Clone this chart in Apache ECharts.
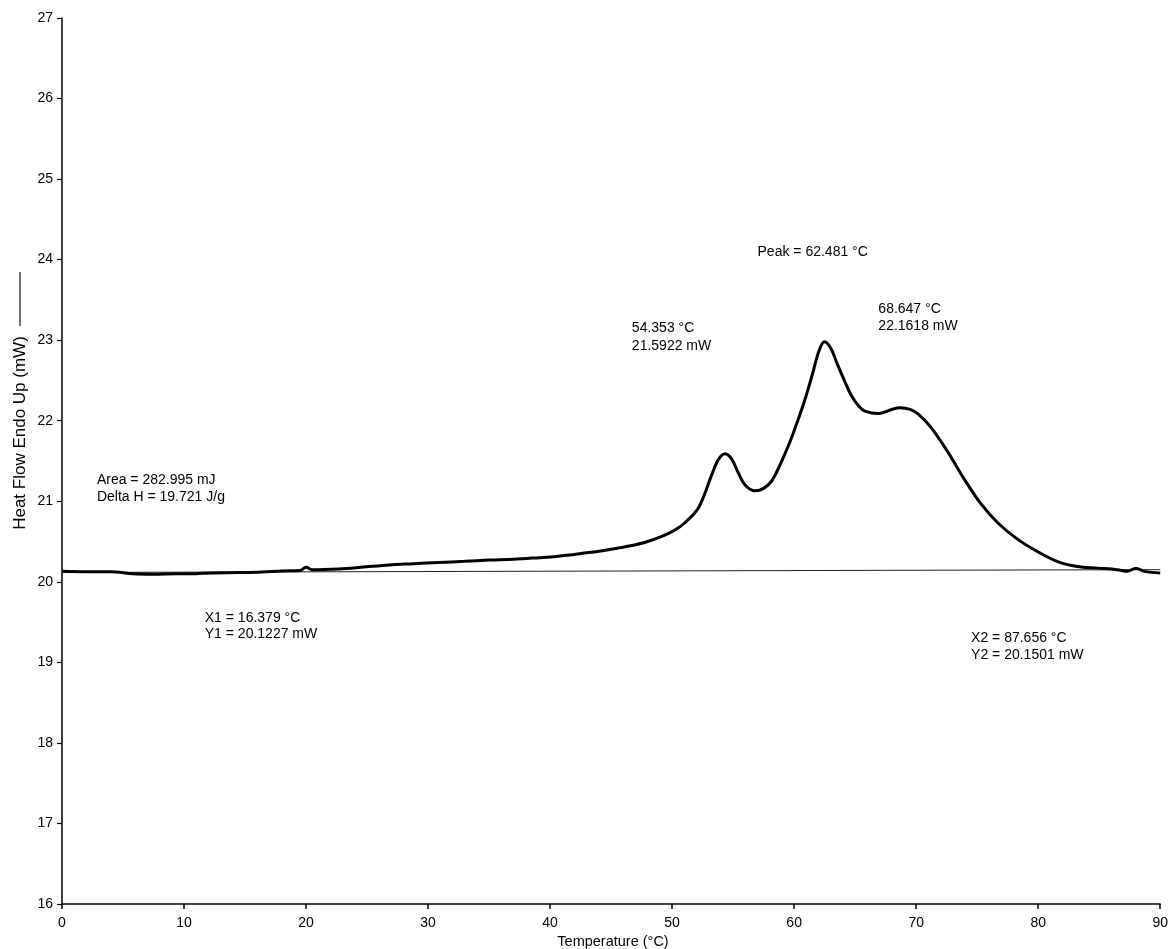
<!DOCTYPE html>
<html>
<head>
<meta charset="utf-8">
<script src="https://cdn.jsdelivr.net/npm/echarts@6/dist/echarts.min.js"></script>
<style>
html,body{margin:0;padding:0;background:#fff;}
#chart{width:1171px;height:949px;}
</style>
</head>
<body>
<div id="chart"></div>
<script>
// Temperature (°C) and heat flow (mW)
const temperature = [0, 2, 4, 5.8, 7.5, 9.4, 11, 12.1, 14.5, 16.4, 18, 19.5, 20.0, 20.5, 22.7, 24.5, 26.8, 28.8, 30.9, 33, 35, 37, 39.1, 40.5, 41.8, 43, 44, 45.6, 46.7, 48, 49.4, 50.3, 51.1, 52.2, 53.3, 53.8, 54.35, 54.9, 55.4, 56.0, 56.8, 57.5, 58.2, 59.5, 60.2, 60.9, 61.5, 62.0, 62.48, 63.0, 63.6, 64.2, 64.7, 65.3, 65.8, 66.9, 68.0, 68.65, 69.5, 70.2, 71.2, 72.6, 74.0, 75.3, 76.7, 78.3, 80.0, 81.6, 83.2, 84.9, 86.5, 87.3, 88.0, 88.7, 90.0];
const heatFlow = [20.13, 20.125, 20.125, 20.10, 20.095, 20.10, 20.10, 20.11, 20.115, 20.122, 20.135, 20.14, 20.18, 20.15, 20.16, 20.18, 20.21, 20.225, 20.24, 20.255, 20.27, 20.28, 20.30, 20.315, 20.335, 20.36, 20.38, 20.42, 20.45, 20.50, 20.58, 20.65, 20.74, 20.93, 21.35, 21.52, 21.59, 21.52, 21.36, 21.20, 21.13, 21.16, 21.26, 21.68, 21.96, 22.27, 22.58, 22.85, 22.98, 22.90, 22.68, 22.47, 22.31, 22.18, 22.12, 22.09, 22.14, 22.16, 22.14, 22.08, 21.92, 21.61, 21.26, 20.97, 20.73, 20.53, 20.37, 20.25, 20.19, 20.17, 20.15, 20.13, 20.17, 20.13, 20.11];

// Integration baseline end points
const baselineX = [0, 90];
const baselineY = [20.116, 20.151];

// Axis ticks
const xTicks = [0, 10, 20, 30, 40, 50, 60, 70, 80, 90];
const yTicks = [16, 17, 18, 19, 20, 21, 22, 23, 24, 25, 26, 27];

// Annotation texts and their anchor positions (data coordinates, left edge / line centre)
const annotationTexts = ['Peak = 62.481 °C', '54.353 °C', '21.5922 mW', '68.647 °C', '22.1618 mW', 'Area = 282.995 mJ', 'Delta H = 19.721 J/g', 'X1 = 16.379 °C', 'Y1 = 20.1227 mW', 'X2 = 87.656 °C', 'Y2 = 20.1501 mW'];
const annotationX = [57.0, 46.7, 46.7, 66.9, 66.9, 2.86, 2.86, 11.7, 11.7, 74.5, 74.5];
const annotationY = [24.07, 23.13, 22.91, 23.37, 23.16, 21.24, 21.03, 19.53, 19.33, 19.28, 19.07];

const FONT = '"Liberation Sans", Arial, sans-serif';
const chart = echarts.init(document.getElementById('chart'));

const curve = temperature.map((t, i) => [t, heatFlow[i]]);
const baseline = baselineX.map((t, i) => [t, baselineY[i]]);

chart.setOption({
  animation: false,
  backgroundColor: '#fff',
  grid: {left: 62, right: 8, top: 18, bottom: 45, containLabel: false},
  xAxis: {
    type: 'value', min: xTicks[0], max: xTicks[xTicks.length - 1], interval: 10,
    axisLine: {lineStyle: {color: '#000', width: 1.5}},
    axisTick: {inside: false, length: 5, lineStyle: {color: '#000', width: 1.5}},
    axisLabel: {color: '#000', fontSize: 14, fontFamily: FONT, margin: 12},
    splitLine: {show: false}
  },
  yAxis: {
    type: 'value', min: yTicks[0], max: yTicks[yTicks.length - 1], interval: 1,
    axisLine: {show: true, lineStyle: {color: '#000', width: 1.5}},
    axisTick: {show: true, inside: false, length: 5, lineStyle: {color: '#000', width: 1.2}},
    axisLabel: {color: '#000', fontSize: 14, fontFamily: FONT, margin: 9},
    splitLine: {show: false}
  },
  series: [
    {
      type: 'line', data: baseline, symbol: 'none', silent: true,
      lineStyle: {color: '#222', width: 1}, z: 2
    },
    {
      type: 'line', data: curve, symbol: 'none', smooth: 0.35, silent: true,
      lineStyle: {color: '#000', width: 3}, z: 3
    }
  ]
});

// Place annotations and axis titles
const graphics = annotationTexts.map((txt, i) => {
  const p = chart.convertToPixel({gridIndex: 0}, [annotationX[i], annotationY[i]]);
  return {
    type: 'text', left: p[0], top: p[1] - 8.5,
    style: {text: txt, fill: '#000', font: '14px ' + FONT}
  };
});
graphics.push({
  type: 'text', x: 613, y: 942,
  style: {text: 'Temperature (°C)', fill: '#000', font: '14.5px ' + FONT, align: 'center', verticalAlign: 'middle'}
});
graphics.push({
  type: 'text', x: 20, y: 433, rotation: Math.PI / 2,
  style: {text: 'Heat Flow Endo Up (mW)', fill: '#000', font: '17px ' + FONT, align: 'center', verticalAlign: 'middle'}
});
graphics.push({
  type: 'line', shape: {x1: 20, y1: 272, x2: 20, y2: 326},
  style: {stroke: '#111', lineWidth: 1.2}
});
chart.setOption({graphic: graphics});
</script>
</body>
</html>
